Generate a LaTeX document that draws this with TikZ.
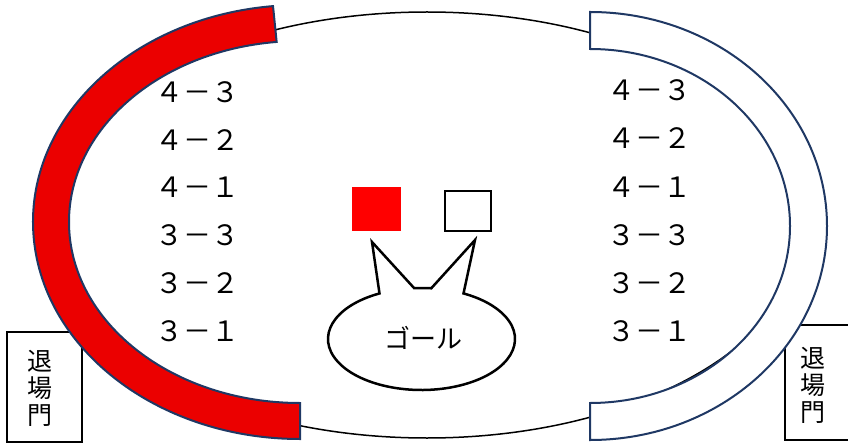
\documentclass[tikz,border=0pt]{standalone}
\usepackage{fontspec}
\newfontfamily\jp{Noto Sans CJK JP}
\definecolor{arcred}{RGB}{235,0,0}
\definecolor{navy}{RGB}{31,56,100}
\definecolor{sqred}{RGB}{255,0,0}
\begin{document}
\begin{tikzpicture}[x=1pt,y=1pt,
  score/.style={font=\jp\fontsize{28}{30}\selectfont, inner sep=0pt},
  gate/.style={font=\jp\fontsize{25}{27}\selectfont, align=center, inner sep=0pt},
  gatebox/.style={draw=black, fill=white, line width=1.5pt},
  track/.style={draw=black, line width=1.5pt},
  band/.style={draw=navy, line width=2pt, line join=miter},
  bubble/.style={draw=black, fill=white, line width=2.5pt, line join=miter}]
\useasboundingbox (0,0) rectangle (848,445);
\clip (0,0) rectangle (848,445);
% track
\draw[track] (427,220) ellipse [x radius=378, y radius=213];
% gate boxes
\draw[gatebox] (7,3) rectangle (82,113);
\draw[gatebox] (785,5) rectangle (860,120);
\node[gate] (gateL) at (40,57) {退\\場\\門};
\node[gate] (gateR) at (813,60) {退\\場\\門};
% red band (left)
\filldraw[band, fill=arcred]
  ([shift={(95.8:267 and 217)}]300,223) arc[start angle=95.8, end angle=270, x radius=267, y radius=217]
  -- ([shift={(270:231 and 181)}]300,223) arc[start angle=270, end angle=95.8, x radius=231, y radius=181]
  -- cycle;
% white band (right)
\filldraw[band, fill=white]
  ([shift={(90:237 and 214)}]590,219) arc[start angle=90, end angle=-90, x radius=237, y radius=214]
  -- ([shift={(-90:200 and 177)}]590,219) arc[start angle=-90, end angle=90, x radius=200, y radius=177]
  -- cycle;
% scores left
\node[score] (l43) at (197.5,353) {４－３};
\node[score] (l42) at (197.5,305) {４－２};
\node[score] (l41) at (197.5,258) {４－１};
\node[score] (l33) at (197.5,210) {３－３};
\node[score] (l32) at (197.5,162) {３－２};
\node[score] (l31) at (197.5,114) {３－１};
% scores right
\node[score] (r43) at (649,355) {４－３};
\node[score] (r42) at (649,307) {４－２};
\node[score] (r41) at (649,258) {４－１};
\node[score] (r33) at (649,210) {３－３};
\node[score] (r32) at (649,162) {３－２};
\node[score] (r31) at (649,114) {３－１};
% squares
\node[fill=sqred, minimum width=49pt, minimum height=44pt, inner sep=0pt] (redsq) at (376.5,236) {};
\node[draw=black, line width=2.5pt, fill=white, minimum width=46pt, minimum height=40pt, inner sep=0pt] (whitesq) at (468,234) {};
% goal bubble
\coordinate (tipA) at (372,203);
\coordinate (tipB) at (475,205);
\draw[bubble]
  ([shift={(116.7:93.5 and 51)}]421.5,106) arc[start angle=116.7, end angle=423.3, x radius=93.5, y radius=51]
  -- (tipB) -- ([shift={(84:93.5 and 51)}]421.5,106) arc[start angle=84, end angle=94.5, x radius=93.5, y radius=51]
  -- (tipA) -- cycle;
\node[font=\jp\fontsize{26}{28}\selectfont, inner sep=0pt] (goal) at (423,107) {ゴール};
\end{tikzpicture}
\end{document}
